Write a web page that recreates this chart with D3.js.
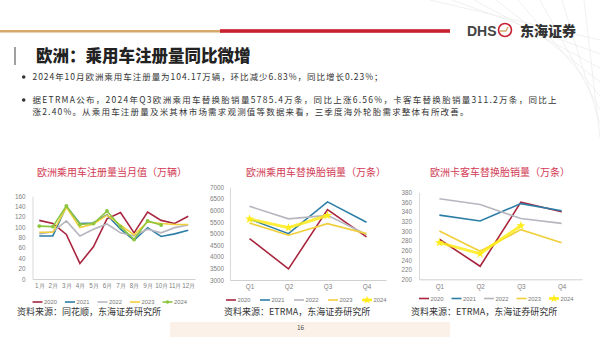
<!DOCTYPE html>
<html><head><meta charset="utf-8">
<script src="https://cdn.jsdelivr.net/npm/d3@7"></script>
<style>body{margin:0;background:#fff;} svg{display:block;font-family:"Noto Sans CJK SC","Noto Sans",sans-serif;}</style>
</head><body><svg id="c" width="600" height="337"></svg>
<script>
// ---------- data ----------
const months = ["1月","2月","3月","4月","5月","6月","7月","8月","9月","10月","11月","12月"];
const quarters = ["Q1","Q2","Q3","Q4"];
const years = ["2020","2021","2022","2023","2024"];

const reg2020 = [113,107,86,30,62,116,128,89,129,113,107,121];
const reg2021 = [83,83,140,107,108,124,96,75,99,82,87,94];
const reg2022 = [87,91,112,83,96,106,89,83,96,89,99,104];
const reg2023 = [90,90,138,99,106,123,104,85,110,107,105,105];
const reg2024 = [102,101,141,105,107,131,101,76,112,104.17];

const car2020 = [4790,3480,6040,4860];
const car2021 = [5630,5000,6370,5490];
const car2022 = [6180,5640,5790,4960];
const car2023 = [5460,4930,5430,5000];
const car2024 = [5630,5260,5785.4];

const truck2020 = [283,227,360,340];
const truck2021 = [333,321,357,342];
const truck2022 = [367,355,326,316];
const truck2023 = [300,258,303,276];
const truck2024 = [276,253,311.2];

const regTicks = [0,20,40,60,80,100,120,140,160];
const carTicks = [3000,3500,4000,4500,5000,5500,6000,6500,7000];
const truckTicks = [200,220,240,260,280,300,320,340,360,380];

const bullet1 = "2024年10月欧洲乘用车注册量为104.17万辆，环比减少6.83%，同比增长0.23%；";
const bullet2a = "据ETRMA公布，2024年Q3欧洲乘用车替换胎销量5785.4万条，同比上涨6.56%，卡客车替换胎销量311.2万条，同比上";
const bullet2b = "涨2.40%。从乘用车注册量及米其林市场需求观测值等数据来看，三季度海外轮胎需求整体有所改善。";

// ---------- drawing ----------
const svg = d3.select("#c");
const W = 600, H = 337;
svg.append("rect").attr("width",W).attr("height",H).attr("fill","#fff");

// faint background decorations
const deco = svg.append("g").attr("stroke","#ececec").attr("stroke-width",0.8).attr("fill","none");
[0,1,2,3,4,5,6,7].forEach(i=>{
  deco.append("line").attr("x1",430+i*22).attr("y1",0).attr("x2",600).attr("y2",40+i*14);
});
svg.append("rect").attr("x",170).attr("y",322).attr("width",280).attr("height",15).attr("fill","#fbeee3").attr("opacity",0.8);

// header lines
svg.append("rect").attr("x",0).attr("y",30).attr("width",222).attr("height",2.5).attr("fill","#d4a96a");
svg.append("rect").attr("x",220).attr("y",29.2).attr("width",230).attr("height",3.6).attr("fill","#c8202f");

// logo
svg.append("text").attr("x",467).attr("y",35.5).attr("font-size",14).attr("font-weight",700)
  .attr("font-family","Arial, 'Liberation Sans', sans-serif").attr("fill","#444").text("DHS");
svg.append("circle").attr("cx",505).attr("cy",30).attr("r",6.5).attr("fill","none").attr("stroke","#c8202f").attr("stroke-width",1.6);
svg.append("path").attr("d","M500,31 L506,31 L508,27").attr("fill","none").attr("stroke","#d4a96a").attr("stroke-width",1.4);
svg.append("text").attr("x",520).attr("y",35.5).attr("font-size",14).attr("font-weight",900)
  .attr("fill","#333").text("东海证券");

// title
svg.append("rect").attr("x",14).attr("y",47).attr("width",2).attr("height",18).attr("fill","#a0a0a0");
svg.append("text").attr("x",36).attr("y",61.5).attr("font-size",16.5).attr("font-weight",900)
  .attr("fill","#222").text("欧洲：乘用车注册量同比微增");

// bullets
const bfs = 8.5;
function bulletText(txt, x, y, len){
  svg.append("text").attr("x",x).attr("y",y).attr("font-size",bfs).attr("fill","#333")
    .attr("textLength",len).attr("lengthAdjust","spacing").text(txt);
}
svg.append("circle").attr("cx",23.7).attr("cy",77).attr("r",1.8).attr("fill","#333");
bulletText(bullet1, 32.5, 80, 350);
svg.append("circle").attr("cx",23.7).attr("cy",100).attr("r",1.8).attr("fill","#333");
bulletText(bullet2a, 32.5, 103, 524);
bulletText(bullet2b, 32.5, 115, 436);

const colors = {"2020":"#a8263f","2021":"#2d7ea6","2022":"#b6b6be","2023":"#f0cf3c"};

function chart(cfg){
  const g = svg.append("g");
  const x = d3.scalePoint().domain(cfg.cats).range(cfg.xr).padding(0.5);
  const y = d3.scaleLinear().domain(cfg.yd).range(cfg.yr);
  // title
  g.append("text").attr("x",cfg.tx).attr("y",176).attr("text-anchor","middle")
    .attr("font-size",10).attr("fill","#d23a54").text(cfg.title);
  // y axis
  const ya = g.append("g").attr("transform",`translate(${cfg.xr[0]},0)`)
    .call(d3.axisLeft(y).tickValues(cfg.ticks).tickSize(0).tickPadding(cfg.tp).tickFormat(d3.format("d")));
  ya.select(".domain").attr("stroke","#d9d9d9");
  ya.selectAll("text").attr("font-size",6.3).attr("fill","#808080").attr("font-family","'Liberation Sans',Arial,sans-serif");
  // x axis
  const xa = g.append("g").attr("transform",`translate(0,${cfg.yr[0]})`)
    .call(d3.axisBottom(x).tickSize(0).tickPadding(5));
  xa.select(".domain").attr("stroke","#d0d0d0");
  xa.selectAll("text").attr("font-size",6.3).attr("fill","#808080");
  // lines
  const line = d3.line().x((d,i)=>x(cfg.cats[i])).y(d=>y(d));
  cfg.series.forEach((s,k)=>{
    const yr = years[k];
    const last = yr==="2024";
    const col = last ? cfg.c24 : colors[yr];
    g.append("path").datum(s).attr("d",line).attr("fill","none").attr("stroke",col)
      .attr("stroke-width", last ? cfg.w24 : 1.6).attr("stroke-linejoin","miter")
      .attr("opacity", last && cfg.star ? 0.85 : 1);
    if(last){
      g.selectAll(null).data(s).enter().append("path")
        .attr("d", d3.symbol().type(cfg.star ? d3.symbolStar : d3.symbolCircle).size(cfg.star?26:12))
        .attr("transform",(d,i)=>`translate(${x(cfg.cats[i])},${y(d)})`).attr("fill",col);
    }
  });
  // legend
  years.forEach((yr,k)=>{
    const lx = cfg.lx + k*cfg.ls;
    const last = yr==="2024";
    const col = last ? cfg.c24 : colors[yr];
    g.append("line").attr("x1",lx).attr("x2",lx+10).attr("y1",cfg.ly).attr("y2",cfg.ly)
      .attr("stroke",col).attr("stroke-width", last && cfg.star ? 2.5 : 1.6);
    if(last){
      g.append("path").attr("d", d3.symbol().type(cfg.star ? d3.symbolStar : d3.symbolCircle).size(cfg.star?22:10))
        .attr("transform",`translate(${lx+5},${cfg.ly})`).attr("fill",col);
    }
    g.append("text").attr("x",lx+11.5).attr("y",cfg.ly+2).attr("font-size",5.8).attr("fill","#777")
      .attr("font-family","'Liberation Sans',Arial,sans-serif").text(yr);
  });
  // source
  svg.append("text").attr("x",cfg.sx).attr("y",315).attr("font-size",9).attr("fill","#333").text(cfg.src);
}

chart({cats:months, xr:[32.5,195], yd:[0,160], yr:[279,196], ticks:regTicks, tp:7,
  title:"欧洲乘用车注册量当月值（万辆）", tx:112,
  series:[reg2020,reg2021,reg2022,reg2023,reg2024], c24:"#8cc63f", w24:1.6, star:false,
  lx:32.5, ls:32.5, ly:302, sx:17, src:"资料来源：同花顺，东海证券研究所"});

chart({cats:quarters, xr:[230,386], yd:[3000,7000], yr:[280,187.3], ticks:carTicks, tp:6,
  title:"欧洲乘用车替换胎销量（万条）", tx:316,
  series:[car2020,car2021,car2022,car2023,car2024], c24:"#ffec1a", w24:3, star:true,
  lx:226, ls:34, ly:300, sx:224, src:"资料来源：ETRMA，东海证券研究所"});

chart({cats:quarters, xr:[419,582], yd:[200,380], yr:[279.3,192.5], ticks:truckTicks, tp:7,
  title:"欧洲卡客车替换胎销量（万条）", tx:500,
  series:[truck2020,truck2021,truck2022,truck2023,truck2024], c24:"#ffec1a", w24:3, star:true,
  lx:419, ls:32.5, ly:298.5, sx:411, src:"资料来源：ETRMA，东海证券研究所"});

// page number
svg.append("text").attr("x",297).attr("y",330).attr("font-size",6.5).attr("fill","#555").text("16");
</script></body></html>
